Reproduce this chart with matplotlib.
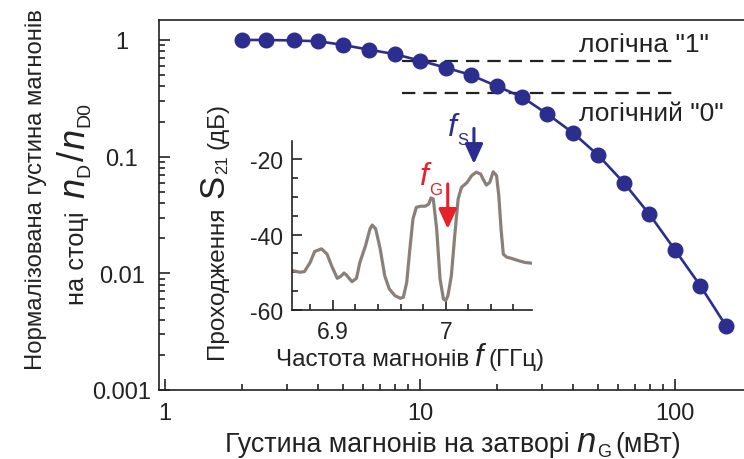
import matplotlib
matplotlib.use("Agg")
import matplotlib.pyplot as plt
from matplotlib.transforms import IdentityTransform
from matplotlib.ticker import LogLocator, FixedLocator, MultipleLocator, FuncFormatter
import numpy as np

plt.rcParams['font.family'] = ['Liberation Sans', 'DejaVu Sans']

# ---------------- data ----------------
gate_density = [2.0, 2.5, 3.2, 4.0, 5.0, 6.3, 8.0, 10.0, 12.6, 15.8,
                20.0, 25.1, 31.6, 39.8, 50.1, 63.1, 79.4, 100.0, 125.9, 158.5]
drain_norm = [1.0, 1.0, 0.99, 0.975, 0.906, 0.826, 0.755, 0.665, 0.58, 0.502,
              0.402, 0.325, 0.232, 0.16, 0.1025, 0.0596, 0.0321, 0.0159, 0.0078, 0.00356]
logic_levels = [0.665, 0.352]
logic_x = [8.5, 100.0]
logic_labels = ['логічна "1"', 'логічний "0"']

freq_ghz = [6.865, 6.871, 6.875, 6.880, 6.884, 6.890, 6.895, 6.899, 6.904, 6.907,
            6.910, 6.912, 6.917, 6.921, 6.924, 6.929, 6.933, 6.935, 6.938, 6.942,
            6.946, 6.950, 6.955, 6.960, 6.9625, 6.9655, 6.968, 6.971, 6.974, 6.978,
            6.982, 6.985, 6.987, 6.989, 6.992, 6.995, 6.998, 7.000, 7.002, 7.005,
            7.008, 7.011, 7.014, 7.019, 7.023, 7.027, 7.031, 7.033, 7.036, 7.039,
            7.042, 7.045, 7.047, 7.049, 7.051, 7.054, 7.058, 7.064, 7.070, 7.076]
s21_db = [-49.6, -50.0, -49.8, -47.4, -44.5, -43.8, -45.2, -48.3, -51.6, -51.1,
          -50.2, -50.7, -52.5, -51.6, -47.4, -43.0, -38.5, -37.5, -38.5, -43.8,
          -50.9, -54.4, -56.2, -56.9, -56.6, -52.7, -44.7, -35.9, -32.8, -32.5,
          -32.5, -31.9, -30.3, -30.6, -38.5, -51.8, -57.1, -57.5, -56.2, -50.9,
          -40.3, -30.6, -27.5, -26.2, -24.4, -23.5, -24.0, -25.3, -26.9, -26.2,
          -23.4, -24.4, -29.7, -38.5, -45.2, -46.0, -46.3, -46.9, -47.4, -47.6]
f_gate = 7.0018
f_signal = 7.025

BLUE = '#2b2d8f'
RED = '#e8202a'
GREY = '#8a8079'
INK = '#222222'

W, H = 744, 460
fig = plt.figure(figsize=(W / 100, H / 100), dpi=100)

def px_rect(l, t, r, b):
    return [l / W, 1 - b / H, (r - l) / W, (b - t) / H]

# ---------------- main axes ----------------
ax = fig.add_axes(px_rect(159.3, 21, 744, 391))
ax.set_xscale('log')
ax.set_yscale('log')
ax.plot(gate_density, drain_norm, '-o', color=BLUE, lw=1.9, ms=10.5, zorder=3)
for lvl in logic_levels:
    ax.plot(logic_x, [lvl, lvl], color=INK, lw=1.6, dashes=(6, 3.6), zorder=2)
ax.text(42, 0.81, logic_labels[0], fontsize=19, color=INK, ha='left', va='baseline')
ax.text(42, 0.207, logic_labels[1], fontsize=19, color=INK, ha='left', va='baseline')

ax.set_xlim(0.95, 186.6)
ax.set_ylim(0.001, 1.483)
ax.spines['right'].set_visible(False)
for s in ax.spines.values():
    s.set_linewidth(1.2)
    s.set_color(INK)
ax.xaxis.set_major_locator(FixedLocator([1, 10, 100]))
ax.xaxis.set_minor_locator(LogLocator(base=10, subs=np.arange(2, 10)))
ax.yaxis.set_major_locator(FixedLocator([0.001, 0.01, 0.1, 1]))
ax.yaxis.set_minor_locator(LogLocator(base=10, subs=np.arange(2, 10)))
fmt = FuncFormatter(lambda v, p: ('%g' % v))
ax.xaxis.set_major_formatter(fmt)
ax.yaxis.set_major_formatter(fmt)
ax.xaxis.set_minor_formatter(plt.NullFormatter())
ax.yaxis.set_minor_formatter(plt.NullFormatter())
ax.tick_params(which='both', direction='in', color=INK, width=1.2, labelcolor=INK,
               labelsize=17, top=False, right=False)
ax.tick_params(which='major', length=8)
ax.tick_params(which='minor', length=4.5)
ax.tick_params(axis='x', pad=9)
ax.tick_params(axis='y', pad=27)
for lab in ax.get_yticklabels():
    lab.set_horizontalalignment('center')

# ---------------- inset ----------------
ins = fig.add_axes(px_rect(292.3, 141.7, 532, 311))
ins.patch.set_alpha(0)
ins.plot(freq_ghz, s21_db, color=GREY, lw=2.3, solid_joinstyle='round', solid_capstyle='round')
ins.set_xlim(6.8642, 7.0764)
ins.set_ylim(-60, -15.15)
ins.spines['right'].set_visible(False)
ins.spines['top'].set_visible(False)
for s in ['left', 'bottom']:
    ins.spines[s].set_linewidth(1.2)
    ins.spines[s].set_color(INK)
ins.xaxis.set_major_locator(FixedLocator([6.9, 7.0]))
ins.xaxis.set_minor_locator(MultipleLocator(0.02))
ins.yaxis.set_major_locator(FixedLocator([-60, -40, -20]))
ins.yaxis.set_minor_locator(MultipleLocator(5))
ins.xaxis.set_major_formatter(fmt)
ins.yaxis.set_major_formatter(FuncFormatter(lambda v, p: '%d' % v))
ins.tick_params(which='both', direction='in', color=INK, width=1.2, labelcolor=INK,
                labelsize=16.5)
ins.tick_params(which='major', length=7)
ins.tick_params(which='minor', length=4)
ins.tick_params(axis='x', pad=7.5)
ins.tick_params(axis='y', pad=6.5)

arrow_kw = dict(arrowstyle='-|>,head_length=1.2,head_width=0.55', lw=2.2, shrinkA=0, shrinkB=0)
ins.annotate('', xy=(f_signal, -21.3), xytext=(f_signal, -11.9),
             arrowprops=dict(color=BLUE, **arrow_kw), annotation_clip=False)
ins.annotate('', xy=(f_gate, -38.5), xytext=(f_gate, -26.6),
             arrowprops=dict(color=RED, **arrow_kw), annotation_clip=False)

# ---------------- rich text helper (pixel coords, y from top) ----------------
renderer = fig.canvas.get_renderer()

def rich(pieces, x, y, rotation=0, center=True):
    objs = []
    lengths = []
    for p in pieces:
        s, size, style, color, shift, gap = p
        t = fig.text(0, 0, s, fontsize=size, style=style, color=color, ha='left',
                     va='baseline', rotation=rotation, rotation_mode='anchor',
                     transform=IdentityTransform())
        bb = t.get_window_extent(renderer)
        L = bb.width if rotation == 0 else bb.height
        objs.append((t, shift, gap))
        lengths.append(L + gap)
    total = sum(lengths)
    if rotation == 0:
        pos = x - total / 2 if center else x
        Y = H - y
        for (t, shift, gap), L in zip(objs, lengths):
            pos += gap
            t.set_position((pos, Y - shift))
            pos += L - gap
    else:
        Y = H - y
        pos = Y - total / 2 if center else Y
        for (t, shift, gap), L in zip(objs, lengths):
            pos += gap
            t.set_position((x + shift, pos))
            pos += L - gap

N, I = 'normal', 'italic'
# main x label
rich([('Густина магнонів на затворі', 19.3, N, INK, 0, 0),
      ('n', 25, I, INK, 0, 7),
      ('G', 13, N, INK, 5, 1),
      ('(мВт)', 19.3, N, INK, 0, 4)], 453, 452)
# main y label
rich([('Нормалізована густина магнонів', 17.2, N, INK, 0, 0)], 42, 190, rotation=90)
rich([('на стоці', 18.3, N, INK, 0, 0),
      ('n', 26, I, INK, 0, 14),
      ('D', 14, N, INK, 5, 1),
      ('/', 26, N, INK, 0, 2),
      ('n', 26, I, INK, 0, 2),
      ('D0', 14, N, INK, 5, 1)], 84, 204, rotation=90)
# inset labels
rich([('Частота магнонів', 17.5, N, INK, 0, 0),
      ('f', 22, I, INK, 0, 6),
      ('(ГГц)', 17.5, N, INK, 0, 5)], 410.5, 365.7)
rich([('Проходження', 17.5, N, INK, 0, 0),
      ('S', 25, N, INK, 0, 9),
      ('21', 12, N, INK, 4, 0),
      ('(дБ)', 17.5, N, INK, 0, 7)], 223, 231, rotation=90)
# arrow labels
rich([('f', 23, I, BLUE, 0, 0), ('S', 12, N, BLUE, 9, 0)], 448, 136, center=False)
rich([('f', 23, I, RED, 0, 0), ('G', 12, N, RED, 10, 0)], 420, 185, center=False)

fig.savefig('out.png', dpi=100)
